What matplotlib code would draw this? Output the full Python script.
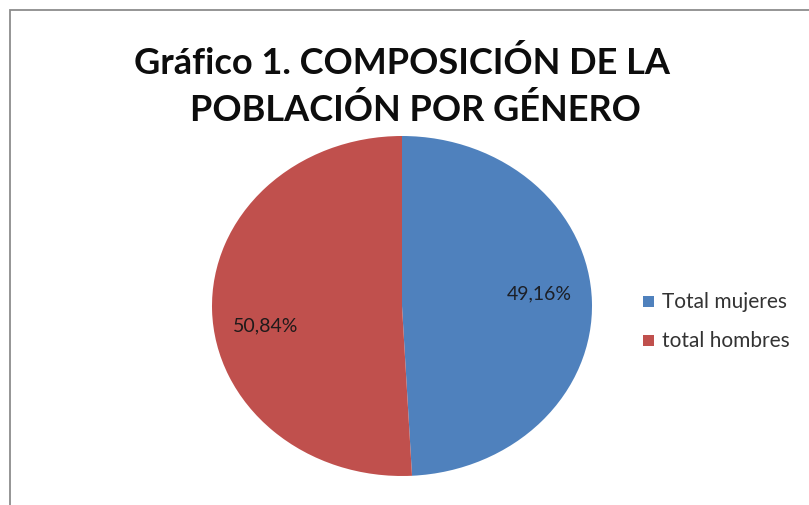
import matplotlib
matplotlib.use("Agg")
import matplotlib.pyplot as plt
from matplotlib.patches import Rectangle

title_lines = ["Gráfico 1. COMPOSICIÓN DE LA", "POBLACIÓN POR GÉNERO"]
categories = ["Total mujeres", "total hombres"]
values = [49.16, 50.84]
colors = ["#4F81BD", "#C0504D"]

W, H = 809, 506
fig = plt.figure(figsize=(W / 100, H / 100), dpi=100)
fig.patch.set_facecolor("white")

# outer border (top and left visible)
fig.add_artist(Rectangle((9.5 / W, -0.1), 1.2, (H - 11) / H + 0.1, transform=fig.transFigure,
                         fill=False, edgecolor="#8c8c8c", linewidth=1.3))

ax = fig.add_axes([212 / W, (H - 477) / H, 380 / W, 340 / H])
wedges, texts = ax.pie(values, colors=colors, startangle=90, counterclock=False,
                       radius=1.0, wedgeprops=dict(linewidth=0))
ax.set_aspect("auto")
ax.set_xlim(-1, 1)
ax.set_ylim(-1, 1)
ax.axis("off")

font = "Lato"
labels = [f"{v:.2f}%".replace(".", ",") for v in values]
ax.text(0.72, 0.075, labels[0], ha="center", va="center", fontsize=14, family=font, color="#1c1f26")
ax.text(-0.716, -0.11, labels[1], ha="center", va="center", fontsize=14, family=font, color="#1f1a1a")

fig.text(402 / W, 1 - 74 / H, title_lines[0], ha="center", va="baseline", fontsize=26,
         fontweight="bold", family=font, color="#0d0d0d")
fig.text(415 / W, 1 - 121 / H, title_lines[1], ha="center", va="baseline", fontsize=26,
         fontweight="bold", family=font, color="#0d0d0d")

# legend
for i, lab in enumerate(categories):
    y = 1 - (302 + 39 * i) / H
    fig.add_artist(Rectangle((643 / W, y - 5.5 / H), 11 / W, 11 / H, transform=fig.transFigure,
                             facecolor=colors[i], edgecolor="none"))
    fig.text(662 / W, y, lab, ha="left", va="center", fontsize=15, family=font, color="#333333")

fig.savefig("out.png", dpi=100)
